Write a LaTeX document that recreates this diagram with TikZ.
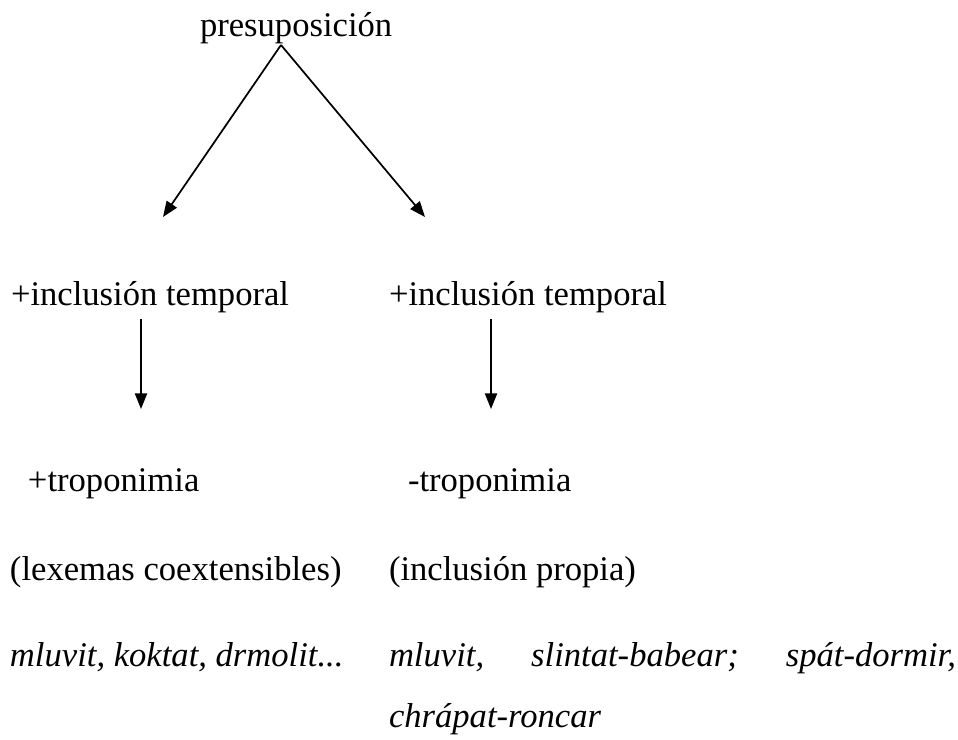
\documentclass[tikz,border=0pt]{standalone}
\usepackage{fontspec}
\setmainfont{Liberation Serif}
\usetikzlibrary{arrows.meta}
\begin{document}
\begin{tikzpicture}[x=0.3468pt,y=-0.3468pt,
  lbl/.style={anchor=base west,inner sep=0pt,outer sep=0pt,font=\fontsize{12}{14}\selectfont},
  ilbl/.style={lbl,font=\fontsize{12}{14}\selectfont\itshape},
  arr/.style={line width=0.6pt,-{Triangle[length=5.4pt,width=4.2pt]}}]
\useasboundingbox (0,0) rectangle (958,740);
\node[lbl] (pres) at (200,37) {presuposición};
\node[lbl] (incL) at (11,306) {+inclusión temporal};
\node[lbl] (incR) at (389,306) {+inclusión temporal};
\node[lbl] (tropL) at (28,492) {+troponimia};
\node[lbl] (tropR) at (408,492) {-troponimia};
\node[lbl] (lexL) at (10,580) {(lexemas coextensibles)};
\node[lbl] (lexR) at (389,580) {(inclusión propia)};
\node[ilbl] (exL) at (10,666) {mluvit, koktat, drmolit...};
\node[ilbl] (exR) at (389,666) {\hbox to 567\dimexpr 0.3468pt\relax{mluvit,\hfil slintat-babear;\hfil spát-dormir,}};
\node[ilbl] (exR2) at (389,727) {chrápat-roncar};
\coordinate (apex) at (281,45);
\coordinate (tipL) at (163,217);
\coordinate (tipR) at (425,217);
\coordinate (vL1) at (141,319);
\coordinate (vL2) at (141,409);
\coordinate (vR1) at (491,319);
\coordinate (vR2) at (491,409);
\draw[arr] (apex) -- (tipL);
\draw[arr] (apex) -- (tipR);
\draw[arr] (vL1) -- (vL2);
\draw[arr] (vR1) -- (vR2);
\end{tikzpicture}
\end{document}
